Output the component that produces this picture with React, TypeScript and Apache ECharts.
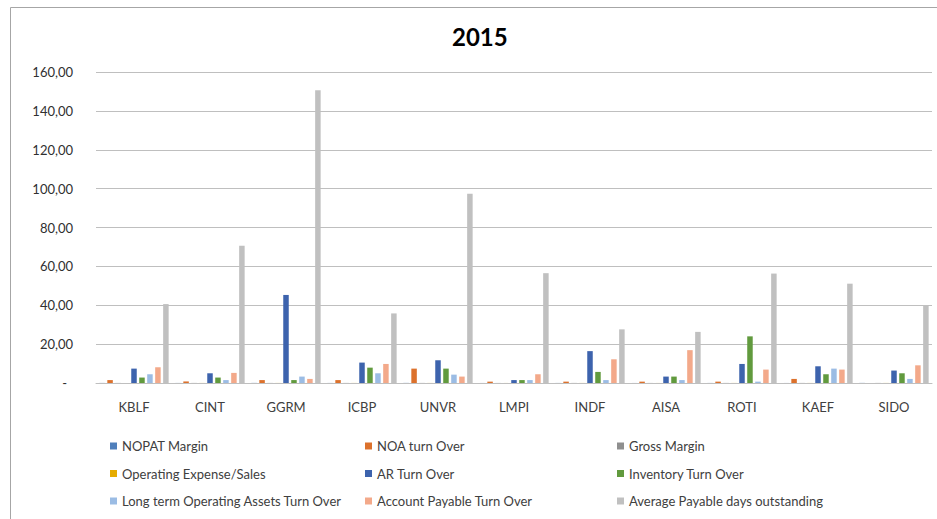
import React, { useEffect, useRef } from "react";
import * as echarts from "echarts";

const categories = ["KBLF", "CINT", "GGRM", "ICBP", "UNVR", "LMPI", "INDF", "AISA", "ROTI", "KAEF", "SIDO"];

const nopatMargin = [0.04, 0.03, 0.05, 0.03, 0.05, 0.02, 0.03, 0.02, 0.03, 0.02, 0.05];
const noaTurnOver = [1.5, 0.8, 1.5, 1.5, 7.4, 0.7, 0.7, 0.7, 0.7, 2.1, 0];
const grossMargin = [0.04, 0.04, 0.04, 0.04, 0.04, 0.03, 0.04, 0.03, 0.04, 0.04, 0.04];
const opexSales = [0.03, 0.03, 0.03, 0.03, 0.03, 0.02, 0.03, 0.02, 0.03, 0.03, 0.03];
const arTurnOver = [7.4, 5.0, 45.3, 10.5, 11.7, 1.5, 16.4, 3.3, 9.8, 8.6, 6.4];
const inventoryTurnOver = [2.8, 2.8, 1.5, 7.9, 7.4, 1.5, 5.7, 3.3, 24.0, 4.5, 5.0];
const ltAssetsTurnOver = [4.5, 1.5, 3.3, 5.0, 4.3, 1.5, 1.5, 1.5, 0.7, 7.4, 2.1];
const apTurnOver = [8.1, 5.2, 2.1, 9.8, 3.3, 4.5, 12.2, 16.9, 6.9, 6.9, 9.1];
const avgPayableDays = [40.6, 70.6, 150.6, 35.8, 97.4, 56.5, 27.6, 26.3, 56.3, 51.1, 40.0];

const yTicks = { min: 0, max: 160, interval: 20 };

const seriesDefs = [
  { name: "NOPAT Margin", data: nopatMargin, color: "#4f7fbb" },
  { name: "NOA turn Over", data: noaTurnOver, color: "#dc712c" },
  { name: "Gross Margin", data: grossMargin, color: "#8f8f8f" },
  { name: "Operating Expense/Sales", data: opexSales, color: "#e6ac00" },
  { name: "AR Turn Over", data: arTurnOver, color: "#3d63ad" },
  { name: "Inventory Turn Over", data: inventoryTurnOver, color: "#619a3e" },
  { name: "Long term Operating Assets Turn Over", data: ltAssetsTurnOver, color: "#9bbce4" },
  { name: "Account Payable Turn Over", data: apTurnOver, color: "#f3a98a" },
  { name: "Average Payable days outstanding", data: avgPayableDays, color: "#c0c0c0" },
];

const legendCols = [
  { left: 105, names: ["NOPAT Margin", "Operating Expense/Sales", "Long term Operating Assets Turn Over"] },
  { left: 360, names: ["NOA turn Over", "AR Turn Over", "Account Payable Turn Over"] },
  { left: 612, names: ["Gross Margin", "Inventory Turn Over", "Average Payable days outstanding"] },
];

const FONT = "Lato, 'Open Sans', sans-serif";

export default function App() {
  const ref = useRef<HTMLDivElement>(null);
  useEffect(() => {
    if (!ref.current) return;
    const chart = echarts.init(ref.current, null, { renderer: "svg" });
    chart.setOption({
      animation: false,
      backgroundColor: "#ffffff",
      textStyle: { fontFamily: FONT },
      title: {
        text: "2015",
        left: 447,
        top: 19,
        textStyle: { fontSize: 24, fontWeight: "bold", color: "#000000", fontFamily: FONT },
      },
      graphic: [
        {
          type: "rect",
          shape: { x: 10.5, y: 7.5, width: 940, height: 530 },
          style: { fill: "none", stroke: "#a6a6a6", lineWidth: 1 },
          silent: true,
        },
      ],
      legend: legendCols.map((c) => ({
        orient: "vertical",
        left: c.left,
        top: 433,
        itemWidth: 7,
        itemHeight: 7,
        itemGap: 11.5,
        icon: "rect",
        selectedMode: false,
        data: c.names,
        textStyle: { fontSize: 13, color: "#404040", fontFamily: FONT, lineHeight: 16 },
      })),
      grid: { left: 96, right: 5, top: 72, bottom: 136 },
      xAxis: {
        type: "category",
        data: categories,
        axisTick: { show: false },
        axisLine: { lineStyle: { color: "#bfbfbf", width: 1 } },
        axisLabel: { fontSize: 13, color: "#404040", margin: 17, fontFamily: FONT },
      },
      yAxis: {
        type: "value",
        min: yTicks.min,
        max: yTicks.max,
        interval: yTicks.interval,
        axisLine: { show: false },
        axisTick: { show: false },
        splitLine: { lineStyle: { color: "#bfbfbf", width: 1 } },
        axisLabel: {
          fontSize: 13,
          color: "#303030",
          margin: 23,
          fontFamily: FONT,
          formatter: (v: number) => (v === 0 ? "{dash|-}" : v.toFixed(2).replace(".", ",")),
          rich: { dash: { padding: [0, 6, 0, 0], fontSize: 13, color: "#303030", fontFamily: FONT } },
        },
      },
      series: seriesDefs.map((s) => ({
        name: s.name,
        type: "bar",
        data: s.data,
        barWidth: 5.5,
        barGap: "45%",
        itemStyle: { color: s.color },
      })),
    });
    return () => chart.dispose();
  }, []);
  return (
    <div
      ref={ref}
      style={{ position: "fixed", left: 0, top: 0, width: 937, height: 519, background: "#fff" }}
    />
  );
}
